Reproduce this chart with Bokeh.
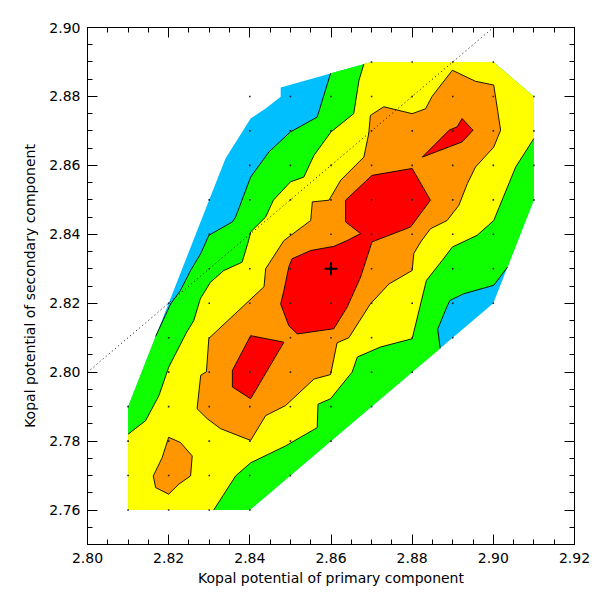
import numpy as np
from bokeh.plotting import figure
from bokeh.models import FixedTicker, LinearAxis, PrintfTickFormatter, CustomJSTickFormatter
from bokeh.embed import file_html
from bokeh.resources import INLINE

# ---------------- data ----------------
# outer boundary of the computed region
hull = [(2.81, 2.76), (2.81, 2.79), (2.82, 2.82), (2.83, 2.85), (2.834, 2.862),
        (2.8402, 2.8736), (2.8439, 2.8765), (2.8476, 2.8799), (2.8476, 2.8826),
        (2.87, 2.89), (2.90, 2.89), (2.91, 2.88), (2.91, 2.85), (2.90, 2.82),
        (2.86, 2.78), (2.84, 2.76)]

# contour level 1 (blue / green)
c1_left = [(2.8168, 2.8104), (2.8205, 2.8198), (2.8229, 2.8237), (2.8254, 2.8295),
           (2.8279, 2.8344), (2.8299, 2.8397), (2.8357, 2.8436), (2.8365, 2.8450),
           (2.8402, 2.8566), (2.8447, 2.8639), (2.8500, 2.8697), (2.8566, 2.8740),
           (2.8599, 2.8867)]
c1_right = [(2.9035, 2.8305), (2.9001, 2.8252), (2.8926, 2.8227), (2.8893, 2.8208),
            (2.8885, 2.8188), (2.8863, 2.8125), (2.8869, 2.8069)]

# contour level 2 (green / yellow)
c2_left = [(2.8100, 2.7820), (2.8143, 2.7859), (2.8176, 2.7932), (2.8200, 2.8014),
           (2.8242, 2.8111), (2.8262, 2.8150), (2.8278, 2.8213), (2.8303, 2.8261),
           (2.8336, 2.8295), (2.8381, 2.8319), (2.8397, 2.8382), (2.8402, 2.8407),
           (2.8439, 2.8450), (2.8458, 2.8499), (2.8500, 2.8552), (2.8533, 2.8566),
           (2.8558, 2.8629), (2.8600, 2.8697), (2.8656, 2.8750), (2.8669, 2.8847),
           (2.8681, 2.8894)]
c2_right = [(2.9100, 2.8678), (2.9055, 2.8595), (2.9001, 2.8440), (2.8960, 2.8397),
            (2.8899, 2.8363), (2.8874, 2.8324), (2.8835, 2.8266), (2.8800, 2.8097),
            (2.8722, 2.8073), (2.8665, 2.8044), (2.8652, 2.8000), (2.8599, 2.7923),
            (2.8568, 2.7907), (2.8566, 2.7839), (2.8488, 2.7786), (2.8402, 2.7737),
            (2.8365, 2.7699), (2.8311, 2.7600)]

# contour level 3 (yellow / orange)
c3_main = [(2.8697, 2.8745), (2.8730, 2.8770), (2.8800, 2.8750), (2.8833, 2.8764),
           (2.8849, 2.8800), (2.8899, 2.8876), (2.8956, 2.8844), (2.9001, 2.8833),
           (2.9018, 2.8702), (2.9001, 2.8653), (2.8956, 2.8595), (2.8936, 2.8547),
           (2.8915, 2.8484), (2.8886, 2.8440), (2.8845, 2.8416), (2.8821, 2.8378),
           (2.8804, 2.8344), (2.8800, 2.8295), (2.8743, 2.8256), (2.8697, 2.8198),
           (2.8644, 2.8100), (2.8615, 2.8085), (2.8599, 2.7993), (2.8558, 2.7980),
           (2.8488, 2.7903), (2.8439, 2.7874), (2.8402, 2.7802), (2.8328, 2.7836),
           (2.8295, 2.7865), (2.8270, 2.7894), (2.8279, 2.7991), (2.8293, 2.8001),
           (2.8299, 2.8098), (2.8435, 2.8248), (2.8439, 2.8300), (2.8484, 2.8382),
           (2.8550, 2.8440), (2.8554, 2.8494), (2.8595, 2.8499), (2.8624, 2.8557),
           (2.8681, 2.8624), (2.8693, 2.8692)]
c3_blob = [(2.8200, 2.7811), (2.8229, 2.7796), (2.8258, 2.7757), (2.8254, 2.7699),
           (2.8225, 2.7675), (2.8200, 2.7646), (2.8168, 2.7665), (2.8162, 2.7699),
           (2.8184, 2.7752)]

# contour level 4 (orange / red)
c4_center = [(2.8496, 2.8305), (2.8504, 2.8329), (2.8550, 2.8353), (2.8607, 2.8365),
             (2.8640, 2.8382), (2.8673, 2.8402), (2.8636, 2.8436), (2.8636, 2.8499),
             (2.8701, 2.8571), (2.8800, 2.8591), (2.8845, 2.8499), (2.8796, 2.8421),
             (2.8701, 2.8378), (2.8673, 2.8276), (2.8640, 2.8189), (2.8607, 2.8126),
             (2.8517, 2.8111), (2.8496, 2.8135), (2.8476, 2.8198), (2.8484, 2.8237)]
c4_upper = [(2.8825, 2.8624), (2.8891, 2.8702), (2.8911, 2.8712), (2.8923, 2.8736),
            (2.8950, 2.8702), (2.8923, 2.8668)]
c4_lower = [(2.8402, 2.8106), (2.8484, 2.8087), (2.8402, 2.7923), (2.8357, 2.7957),
            (2.8357, 2.8005)]

# sampled grid points: (row y, first x, last x)
grid_rows_y = [2.76, 2.77, 2.78, 2.79, 2.80, 2.81, 2.82, 2.83, 2.84, 2.85, 2.86, 2.87, 2.88, 2.89]
grid_rows_x0 = [2.81, 2.81, 2.81, 2.81, 2.82, 2.82, 2.82, 2.83, 2.83, 2.83, 2.84, 2.84, 2.84, 2.87]
grid_rows_x1 = [2.84, 2.85, 2.86, 2.87, 2.88, 2.89, 2.90, 2.90, 2.90, 2.91, 2.91, 2.91, 2.91, 2.90]

best_x = [2.86]
best_y = [2.83]

diag_x = [2.80, 2.90]
diag_y = [2.80, 2.90]

x_ticks = [2.80, 2.82, 2.84, 2.86, 2.88, 2.90, 2.92]
y_ticks = [2.76, 2.78, 2.80, 2.82, 2.84, 2.86, 2.88, 2.90]

colors = ["#00BFFF", "#10FF00", "#FFFF00", "#FF9600", "#FF0000"]

# ---------------- figure ----------------
def X(pts):
    return [q[0] for q in pts]

def Y(pts):
    return [q[1] for q in pts]

FONT = "DejaVu Sans"

p = figure(width=592, height=592, x_range=(2.80, 2.92), y_range=(2.75, 2.90),
           output_backend="svg", toolbar_location=None,
           min_border_left=87, min_border_right=18, min_border_top=27, min_border_bottom=48,
           x_axis_label="Kopal potential of primary component",
           y_axis_label="Kopal potential of secondary component")
p.grid.visible = False
p.outline_line_color = "black"
p.outline_line_width = 1
p.background_fill_color = "white"
p.border_fill_color = "white"

# filled regions (nested)
green_poly = hull[0:2] + c1_left + hull[9:13] + c1_right + hull[14:16]
yellow_poly = hull[0:1] + c2_left + hull[9:12] + c2_right

p.patch(X(hull), Y(hull), fill_color=colors[0], line_color=None)
p.patch(X(green_poly), Y(green_poly), fill_color=colors[1], line_color=None)
p.patch(X(yellow_poly), Y(yellow_poly), fill_color=colors[2], line_color=None)
for poly in (c3_main, c3_blob):
    p.patch(X(poly), Y(poly), fill_color=colors[3], line_color=None)
for poly in (c4_center, c4_upper, c4_lower):
    p.patch(X(poly), Y(poly), fill_color=colors[4], line_color=None)

# y = x reference line
p.line(diag_x, diag_y, line_color="black", line_width=1, line_dash="1 3")

# contour lines
for ln in (c1_left, c1_right, c2_left, c2_right):
    p.line(X(ln), Y(ln), line_color="black", line_width=0.9)
for poly in (c3_main, c3_blob, c4_center, c4_upper, c4_lower):
    closed = poly + poly[:1]
    p.line(X(closed), Y(closed), line_color="black", line_width=0.9)

# sample points
gx, gy = [], []
for yy, x0, x1 in zip(grid_rows_y, grid_rows_x0, grid_rows_x1):
    n = int(round((x1 - x0) / 0.01)) + 1
    for k in range(n):
        gx.append(round(x0 + 0.01 * k, 2))
        gy.append(yy)
p.scatter(gx, gy, marker="square", size=1.6, fill_color="#222222", line_color=None)

# best solution marker
p.scatter(best_x, best_y, marker="cross", size=13, line_color="black", line_width=2)

# ---------------- axes ----------------
x_minor = [round(2.80 + 0.005 * i, 3) for i in range(25)]
y_minor = [round(2.75 + 0.005 * i, 3) for i in range(31)]

p.add_layout(LinearAxis(), "above")
p.add_layout(LinearAxis(), "right")

for ax in p.xaxis:
    ax.ticker = FixedTicker(ticks=x_ticks, minor_ticks=x_minor)
for ax in p.yaxis:
    ax.ticker = FixedTicker(ticks=y_ticks, minor_ticks=y_minor)

for ax in p.axis:
    ax.axis_line_color = "black"
    ax.major_tick_line_color = "black"
    ax.minor_tick_line_color = "black"
    ax.major_tick_in = 10
    ax.major_tick_out = 0
    ax.minor_tick_in = 5
    ax.minor_tick_out = 0
    ax.major_label_text_font = FONT
    ax.major_label_text_font_size = "14px"
    ax.major_label_text_color = "black"
    ax.axis_label_text_font = FONT
    ax.axis_label_text_font_size = "14px"
    ax.axis_label_text_font_style = "normal"
    ax.axis_label_text_color = "black"

p.below[0].formatter = PrintfTickFormatter(format="%.2f")
p.left[0].formatter = PrintfTickFormatter(format="%.2f")
p.below[0].major_label_standoff = 8
p.left[0].major_label_standoff = 7
p.below[0].axis_label_standoff = 4
p.left[0].axis_label_standoff = 8
for ax in (p.above[0], p.right[0]):
    ax.formatter = CustomJSTickFormatter(code="return ''")
    ax.major_label_standoff = 0
    ax.axis_label = None

open("out.html", "w").write(file_html(p, INLINE))
